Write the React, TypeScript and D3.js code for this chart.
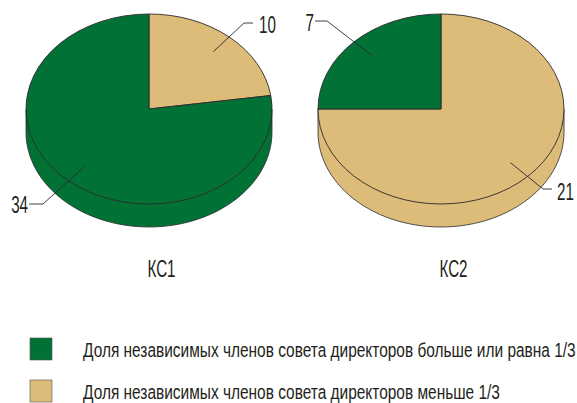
import React from "react";
import * as d3 from "d3";

const panels = ["КС1", "КС2"];
const seriesNames = [
  "Доля независимых членов совета директоров меньше 1/3",
  "Доля независимых членов совета директоров больше или равна 1/3",
];
const valuesKC1 = [10, 34];
const valuesKC2 = [21, 7];
const allValues = [valuesKC1, valuesKC2];

const GREEN = "#027136";
const TAN = "#DDBB78";
const INK = "#2a2a2a";
const FONT = "'Liberation Sans', sans-serif";
const colors = [TAN, GREEN];

const W = 577, H = 403;
const cxs = [149, 441];
const cy = 109, rx = 123, ry = 95, depth = 23;
const labelFs = 23;
const narrow = 0.66;
const legendNarrow = 0.736;

const leaderLayout = [
  [
    { elbow: [95, -86], end: [104, -86], lx: 110, ly: -76, anchor: "start" },
    { elbow: [-106, 95], end: [-120, 95], lx: -121, ly: 104, anchor: "end" },
  ],
  [
    { elbow: [102, 80], end: [111, 80], lx: 116, ly: 91, anchor: "start" },
    { elbow: [-114, -88], end: [-126, -88], lx: -127, ly: -78, anchor: "end" },
  ],
];

const pie = d3.pie<number>().sort(null);
const arc = d3.arc<d3.PieArcDatum<number>>().innerRadius(0).outerRadius(1);

function sidePath() {
  const p = d3.path();
  p.moveTo(-rx, 0);
  p.lineTo(-rx, depth);
  const pts = d3.range(0, 181, 3).map((a) => {
    const t = (a * Math.PI) / 180;
    return [-rx * Math.cos(t), depth + ry * Math.sin(t)];
  });
  pts.forEach(([x, y]) => p.lineTo(x, y));
  p.lineTo(rx, 0);
  return p.toString();
}

function Pie({ idx }: { idx: number }) {
  const values = allValues[idx];
  const slices = pie(values);
  const cx = cxs[idx];
  const sideColor = idx === 0 ? GREEN : TAN;
  return (
    <g transform={`translate(${cx},${cy})`}>
      <path d={sidePath()} fill={sideColor} stroke={INK} strokeWidth={0.8} />
      <g transform={`scale(${rx},${ry})`}>
        {slices.map((s, i) => (
          <path
            key={i}
            d={arc(s) || ""}
            fill={colors[i]}
            stroke={INK}
            strokeWidth={0.9}
            vectorEffect="non-scaling-stroke"
          />
        ))}
      </g>
      {slices.map((s, i) => {
        const mid = (s.startAngle + s.endAngle) / 2;
        const ax = 0.8 * rx * Math.sin(mid);
        const ay = -0.8 * ry * Math.cos(mid);
        const l = leaderLayout[idx][i];
        return (
          <g key={i}>
            <polyline
              points={`${ax},${ay} ${l.elbow[0]},${l.elbow[1]} ${l.end[0]},${l.end[1]}`}
              fill="none"
              stroke={INK}
              strokeWidth={0.9}
            />
            <text
              transform={`translate(${l.lx},${l.ly}) scale(${narrow},1)`}
              fontFamily={FONT}
              fontSize={labelFs}
              fill="#231f20"
              textAnchor={l.anchor as any}
            >
              {s.value}
            </text>
          </g>
        );
      })}
    </g>
  );
}

const legendRows = [1, 0];
const legendY = d3.scalePoint<number>().domain([0, 1]).range([338, 380]);

export default function App() {
  return (
    <svg
      width={W}
      height={H}
      style={{ position: "absolute", left: 0, top: 0, background: "#fff" }}
    >
      {panels.map((name, i) => (
        <g key={name}>
          <Pie idx={i} />
          <text
            transform={`translate(${cxs[i] + 12.5},277) scale(${narrow},1)`}
            fontFamily={FONT}
            fontSize={23}
            fill="#231f20"
            textAnchor="middle"
          >
            {name}
          </text>
        </g>
      ))}
      {legendRows.map((s, row) => {
        const y = legendY(row)!;
        return (
          <g key={s}>
            <rect x={30} y={y} width={22} height={22} fill={colors[s]} stroke="#555" strokeWidth={0.6} />
            <text
              transform={`translate(83,${y + 19}) scale(${legendNarrow},1)`}
              fontFamily={FONT}
              fontSize={21}
              fill="#231f20"
            >
              {seriesNames[s]}
            </text>
          </g>
        );
      })}
    </svg>
  );
}
